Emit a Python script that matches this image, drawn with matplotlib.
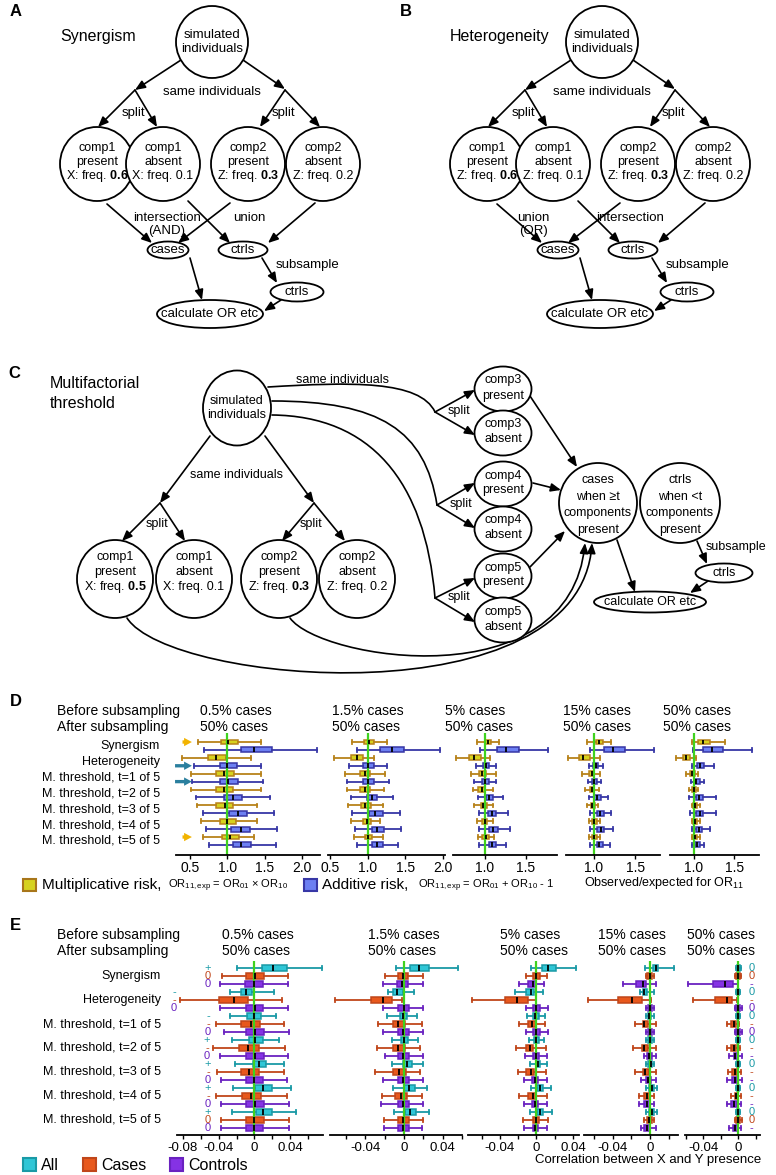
import matplotlib.pyplot as plt
import matplotlib.patches as mpatches
from matplotlib.path import Path
from matplotlib.ticker import MultipleLocator, FuncFormatter

plt.rcParams['font.family'] = ['Liberation Sans', 'DejaVu Sans']
plt.rcParams['axes.unicode_minus'] = False
plt.rcParams['mathtext.fontset'] = 'custom'
plt.rcParams['mathtext.rm'] = 'Liberation Sans'
plt.rcParams['mathtext.it'] = 'Liberation Sans:italic'
plt.rcParams['mathtext.bf'] = 'Liberation Sans:bold'

# ---- data ----
categories = ['Synergism', 'Heterogeneity', 'M. threshold, t=1 of 5', 'M. threshold, t=2 of 5',
              'M. threshold, t=3 of 5', 'M. threshold, t=4 of 5', 'M. threshold, t=5 of 5']
before_sub = ['0.5% cases', '1.5% cases', '5% cases', '15% cases', '50% cases']
after_sub = ['50% cases'] * 5

# panel D, rows = [whisker low, q1, median, q3, whisker high]
mult_0_5 = [[0.60, 0.91, 1.01, 1.14, 1.45], [0.39, 0.74, 0.84, 0.98, 1.32], [0.51, 0.85, 0.95, 1.09, 1.45],
            [0.51, 0.85, 0.95, 1.08, 1.45], [0.59, 0.85, 0.97, 1.08, 1.40], [0.64, 0.90, 1.00, 1.12, 1.39],
            [0.67, 0.93, 1.03, 1.15, 1.36]]
add_0_5 = [[0.68, 1.18, 1.36, 1.59, 2.20], [0.55, 0.90, 1.00, 1.13, 1.45], [0.53, 0.90, 1.01, 1.14, 1.48],
           [0.58, 0.95, 1.07, 1.20, 1.57], [0.67, 1.02, 1.14, 1.26, 1.63], [0.71, 1.05, 1.18, 1.30, 1.67],
           [0.75, 1.07, 1.18, 1.31, 1.65]]
mult_1_5 = [[0.79, 0.95, 1.01, 1.08, 1.26], [0.55, 0.77, 0.85, 0.94, 1.08], [0.69, 0.89, 0.96, 1.03, 1.23],
            [0.72, 0.90, 0.96, 1.03, 1.22], [0.73, 0.91, 0.96, 1.04, 1.21], [0.78, 0.94, 0.99, 1.04, 1.17],
            [0.81, 0.96, 1.00, 1.05, 1.20]]
add_1_5 = [[0.85, 1.16, 1.32, 1.49, 1.97], [0.75, 0.94, 1.00, 1.08, 1.25], [0.72, 0.93, 1.00, 1.08, 1.28],
           [0.78, 0.99, 1.06, 1.13, 1.34], [0.79, 1.01, 1.10, 1.20, 1.43], [0.83, 1.05, 1.13, 1.22, 1.45],
           [0.85, 1.06, 1.13, 1.21, 1.41]]
mult_5 = [[0.90, 1.00, 1.04, 1.08, 1.17], [0.65, 0.81, 0.87, 0.95, 1.06], [0.83, 0.93, 0.96, 1.01, 1.13],
          [0.85, 0.92, 0.96, 1.00, 1.10], [0.87, 0.95, 0.98, 1.02, 1.10], [0.90, 0.97, 1.00, 1.03, 1.10],
          [0.91, 0.97, 1.01, 1.05, 1.11]]
add_5 = [[0.94, 1.15, 1.26, 1.41, 1.77], [0.89, 0.98, 1.01, 1.05, 1.14], [0.87, 0.97, 1.00, 1.05, 1.14],
         [0.91, 1.01, 1.05, 1.10, 1.22], [0.93, 1.04, 1.09, 1.14, 1.28], [0.93, 1.05, 1.10, 1.16, 1.30],
         [0.93, 1.05, 1.09, 1.14, 1.26]]
mult_15 = [[0.91, 1.02, 1.06, 1.11, 1.21], [0.68, 0.82, 0.87, 0.95, 1.07], [0.86, 0.94, 0.97, 1.00, 1.07],
           [0.89, 0.95, 0.97, 1.00, 1.06], [0.91, 0.96, 0.98, 1.01, 1.05], [0.94, 0.98, 1.00, 1.03, 1.07],
           [0.94, 0.98, 1.00, 1.03, 1.07]]
add_15 = [[0.95, 1.12, 1.23, 1.38, 1.73], [0.94, 0.99, 1.02, 1.05, 1.11], [0.93, 0.98, 1.00, 1.04, 1.09],
          [0.94, 1.00, 1.04, 1.08, 1.17], [0.95, 1.04, 1.07, 1.12, 1.21], [0.95, 1.04, 1.08, 1.12, 1.23],
          [0.95, 1.03, 1.06, 1.11, 1.19]]
mult_50 = [[0.98, 1.05, 1.11, 1.20, 1.38], [0.77, 0.86, 0.90, 0.95, 1.03], [0.90, 0.95, 0.97, 1.01, 1.05],
           [0.94, 0.97, 1.00, 1.03, 1.05], [0.97, 0.99, 1.01, 1.04, 1.07], [0.97, 0.99, 1.01, 1.04, 1.07],
           [0.97, 0.99, 1.01, 1.04, 1.07]]
add_50 = [[0.99, 1.11, 1.23, 1.36, 1.72], [0.98, 1.04, 1.08, 1.13, 1.25], [0.96, 1.01, 1.03, 1.07, 1.13],
          [0.94, 1.03, 1.06, 1.11, 1.27], [0.95, 1.03, 1.07, 1.11, 1.27], [0.97, 1.02, 1.06, 1.10, 1.20],
          [0.97, 1.01, 1.04, 1.08, 1.13]]

# panel E, rows = [whisker low, q1, median, q3, whisker high]
all_0_5 = [[-0.020, 0.008, 0.021, 0.036, 0.076], [-0.027, -0.015, -0.009, -0.003, 0.022],
           [-0.027, -0.008, -0.001, 0.007, 0.024], [-0.025, -0.006, 0.001, 0.009, 0.028],
           [-0.022, -0.002, 0.005, 0.013, 0.033], [-0.024, 0.001, 0.009, 0.020, 0.041],
           [-0.025, 0.002, 0.010, 0.020, 0.046]]
cases_0_5 = [[-0.036, -0.009, 0.001, 0.011, 0.038], [-0.083, -0.040, -0.023, -0.007, 0.031],
             [-0.043, -0.015, -0.004, 0.006, 0.033], [-0.046, -0.017, -0.007, 0.005, 0.034],
             [-0.042, -0.015, -0.006, 0.005, 0.033], [-0.043, -0.014, -0.004, 0.007, 0.036],
             [-0.037, -0.009, 0.000, 0.011, 0.039]]
ctrl_0_5 = [[-0.039, -0.011, 0.000, 0.009, 0.038], [-0.039, -0.010, 0.001, 0.010, 0.038],
            [-0.034, -0.009, 0.001, 0.011, 0.039], [-0.039, -0.009, 0.001, 0.011, 0.038],
            [-0.037, -0.010, 0.000, 0.010, 0.036], [-0.037, -0.009, 0.001, 0.011, 0.039],
            [-0.038, -0.010, 0.000, 0.010, 0.039]]
all_1_5 = [[-0.008, 0.006, 0.016, 0.026, 0.056], [-0.017, -0.011, -0.007, -0.001, 0.010],
           [-0.018, -0.004, -0.001, 0.003, 0.013], [-0.012, -0.003, 0.000, 0.004, 0.014],
           [-0.012, -0.001, 0.003, 0.008, 0.020], [-0.011, 0.000, 0.005, 0.011, 0.024],
           [-0.010, 0.001, 0.006, 0.012, 0.026]]
cases_1_5 = [[-0.020, -0.006, -0.001, 0.004, 0.020], [-0.071, -0.034, -0.022, -0.012, -0.002],
             [-0.027, -0.011, -0.006, 0.001, 0.019], [-0.028, -0.011, -0.006, 0.001, 0.017],
             [-0.030, -0.011, -0.005, 0.002, 0.017], [-0.023, -0.009, -0.003, 0.003, 0.019],
             [-0.021, -0.006, -0.001, 0.005, 0.020]]
ctrl_1_5 = [[-0.022, -0.007, -0.002, 0.004, 0.020], [-0.022, -0.006, 0.000, 0.005, 0.020],
            [-0.022, -0.006, -0.001, 0.005, 0.020], [-0.020, -0.006, -0.001, 0.005, 0.020],
            [-0.022, -0.006, -0.001, 0.005, 0.020], [-0.024, -0.006, -0.001, 0.005, 0.020],
            [-0.021, -0.006, -0.001, 0.005, 0.019]]
all_5 = [[-0.006, 0.006, 0.013, 0.021, 0.043], [-0.023, -0.011, -0.006, -0.003, 0.007],
         [-0.010, -0.004, -0.002, 0.003, 0.009], [-0.008, -0.003, 0.000, 0.003, 0.008],
         [-0.007, 0.000, 0.002, 0.004, 0.012], [-0.006, 0.001, 0.004, 0.007, 0.016],
         [-0.007, 0.001, 0.004, 0.007, 0.017]]
cases_5 = [[-0.012, -0.004, 0.000, 0.004, 0.011], [-0.071, -0.035, -0.021, -0.009, 0.000],
           [-0.019, -0.009, -0.005, 0.000, 0.009], [-0.022, -0.011, -0.007, -0.004, 0.010],
           [-0.020, -0.011, -0.006, -0.003, 0.010], [-0.019, -0.009, -0.004, 0.000, 0.011],
           [-0.015, -0.004, -0.001, 0.003, 0.013]]
ctrl_5 = [[-0.019, -0.009, -0.004, 0.000, 0.008], [-0.012, -0.004, 0.000, 0.004, 0.013],
          [-0.012, -0.004, 0.000, 0.004, 0.013], [-0.013, -0.004, 0.000, 0.003, 0.011],
          [-0.014, -0.005, -0.002, 0.002, 0.011], [-0.014, -0.005, -0.002, 0.002, 0.011],
          [-0.014, -0.004, -0.002, 0.002, 0.011]]
all_15 = [[-0.005, 0.003, 0.006, 0.009, 0.026], [-0.011, -0.008, -0.006, -0.003, 0.004],
          [-0.004, -0.002, -0.001, 0.001, 0.004], [-0.004, -0.002, 0.000, 0.002, 0.004],
          [-0.004, -0.002, 0.001, 0.002, 0.004], [-0.004, -0.001, 0.002, 0.004, 0.007],
          [-0.004, -0.001, 0.002, 0.004, 0.007]]
cases_15 = [[-0.004, -0.003, 0.000, 0.002, 0.004], [-0.067, -0.034, -0.019, -0.009, 0.001],
            [-0.016, -0.008, -0.006, -0.002, 0.006], [-0.018, -0.009, -0.006, -0.002, 0.006],
            [-0.016, -0.008, -0.005, -0.001, 0.006], [-0.012, -0.006, -0.003, 0.000, 0.004],
            [-0.006, -0.003, -0.001, 0.002, 0.004]]
ctrl_15 = [[-0.029, -0.015, -0.008, -0.004, 0.006], [-0.004, -0.002, 0.000, 0.002, 0.004],
           [-0.004, -0.002, 0.000, 0.002, 0.004], [-0.007, -0.003, -0.001, 0.002, 0.006],
           [-0.010, -0.004, -0.002, 0.001, 0.006], [-0.012, -0.006, -0.003, 0.000, 0.004],
           [-0.010, -0.006, -0.003, 0.000, 0.006]]
all_50 = [[-0.002, -0.001, 0.000, 0.002, 0.003], [-0.002, -0.001, 0.000, 0.001, 0.002],
          [-0.002, -0.001, 0.000, 0.001, 0.002], [-0.002, -0.001, 0.000, 0.001, 0.002],
          [-0.002, -0.001, 0.000, 0.001, 0.002], [-0.002, -0.001, 0.000, 0.001, 0.002],
          [-0.002, -0.001, 0.000, 0.001, 0.002]]
cases_50 = [[-0.003, -0.002, 0.000, 0.002, 0.003], [-0.051, -0.026, -0.013, -0.007, -0.001],
            [-0.013, -0.008, -0.005, -0.002, 0.001], [-0.013, -0.008, -0.005, -0.002, 0.002],
            [-0.011, -0.007, -0.004, -0.001, 0.003], [-0.008, -0.004, -0.002, 0.000, 0.003],
            [-0.004, -0.002, 0.000, 0.002, 0.004]]
ctrl_50 = [[-0.057, -0.029, -0.015, -0.006, 0.000], [-0.004, -0.002, 0.000, 0.002, 0.004],
           [-0.004, -0.002, 0.000, 0.002, 0.004], [-0.010, -0.005, -0.003, 0.000, 0.004],
           [-0.013, -0.007, -0.004, -0.001, 0.004], [-0.013, -0.008, -0.005, -0.001, 0.003],
           [-0.010, -0.006, -0.003, 0.000, 0.003]]

# significance signs beside panel E
left_all = ['+', '-', '-', '+', '+', '+', '+']
left_cases = ['0', '-', '-', '-', '-', '-', '0']
left_ctrl = ['0', '0', '0', '0', '0', '0', '0']
right_all = ['0', '0', '0', '0', '0', '0', '0']
right_cases = ['0', '-', '-', '-', '-', '-', '0']
right_ctrl = ['-', '0', '0', '-', '-', '-', '-']

# arrows in panel D: (row, colour)
d_arrows = [(0, '#f2b300'), (3, '#2a7f9e'), (5, '#2a7f9e'), (12, '#f2b300')]

# ---- figure ----
W, H = 776, 1175
fig = plt.figure(figsize=(W / 100, H / 100), dpi=100)
ax0 = fig.add_axes([0, 0, 1, 1])
ax0.set_xlim(0, W)
ax0.set_ylim(H, 0)
ax0.axis('off')

HEAD = '-|>,head_length=0.6,head_width=0.25'


def node(x, y, w, h, lines, fs=9, dy=14, ty=0):
    ax0.add_patch(mpatches.Ellipse((x, y), w, h, fc='white', ec='k', lw=1.3, zorder=2))
    n = len(lines)
    for i, s in enumerate(lines):
        ax0.text(x, y + ty + (i - (n - 1) / 2) * dy, s, ha='center', va='center', fontsize=fs, zorder=3)


def arr(p, q, head=True):
    ax0.add_patch(mpatches.FancyArrowPatch(p, q, arrowstyle=HEAD if head else '-', mutation_scale=10,
                                           lw=1.2, color='k', shrinkA=0, shrinkB=0, zorder=1))


def curve(pts, head=True):
    path = Path(pts, [Path.MOVETO, Path.CURVE4, Path.CURVE4, Path.CURVE4])
    ax0.add_patch(mpatches.FancyArrowPatch(path=path, arrowstyle=HEAD if head else '-', mutation_scale=10,
                                           lw=1.2, color='k', zorder=1))


def txt(x, y, s, fs=9.5, ha='center', **kw):
    ax0.text(x, y, s, ha=ha, va='center', fontsize=fs, **kw)


# panels A and B
def panel_ab(dx, letter, title, var, freqs, mid_labels):
    txt(10 + dx, 11, letter, fs=12, ha='left', fontweight='bold')
    txt(60 + dx, 36, title, fs=11.5, ha='left')
    node(212 + dx, 42, 72, 72, ['simulated', 'individuals'], fs=9.5)
    arr((181 + dx, 60), (135 + dx, 90))
    arr((243 + dx, 60), (285 + dx, 89))
    txt(212 + dx, 92, 'same individuals')
    for sx, t1, t2 in [(135, 98, 157), (285, 260, 320)]:
        arr((sx + dx, 90), (t1 + dx, 127))
        arr((sx + dx, 90), (t2 + dx, 127))
        txt(sx + dx - 2, 113, 'split')
    names = ['comp1\npresent', 'comp1\nabsent', 'comp2\npresent', 'comp2\nabsent']
    for cx, nm, v, (f, b) in zip([97, 163, 248, 323], names, var, freqs):
        fr = r'$\mathbf{%s}$' % f if b else f
        node(cx + dx, 164, 74, 74, nm.split('\n') + ['%s: freq. %s' % (v, fr)], ty=-2)
    arr((107 + dx, 204), (152 + dx, 243))
    arr((230 + dx, 203), (178 + dx, 243))
    arr((188 + dx, 201), (230 + dx, 243))
    arr((315 + dx, 203), (268 + dx, 243))
    for (lx, ly, s) in mid_labels:
        txt(lx + dx, ly, s)
    node(168 + dx, 250, 41, 17, ['cases'], fs=9.5)
    node(243 + dx, 250, 49, 17, ['ctrls'], fs=9.5)
    txt(308 + dx, 265, 'subsample')
    arr((262 + dx, 258), (277 + dx, 283))
    node(297 + dx, 292, 53, 19, ['ctrls'], fs=9.5)
    arr((190 + dx, 258), (202 + dx, 300))
    arr((281 + dx, 300), (264 + dx, 311))
    node(210 + dx, 314, 106, 28, ['calculate OR etc'], fs=9.5)


panel_ab(0, 'A', 'Synergism', ['X', 'X', 'Z', 'Z'],
         [('0.6', True), ('0.1', False), ('0.3', True), ('0.2', False)],
         [(167, 218, 'intersection'), (167, 231, '(AND)'), (249, 218, 'union')])
panel_ab(390, 'B', 'Heterogeneity', ['Z', 'Z', 'Z', 'Z'],
         [('0.6', True), ('0.1', False), ('0.3', True), ('0.2', False)],
         [(143, 218, 'union'), (143, 231, '(OR)'), (240, 218, 'intersection')])

# panel C
fsC = 9
txt(8, 373, 'C', fs=12, ha='left', fontweight='bold')
txt(50, 383, 'Multifactorial', fs=11.5, ha='left')
txt(50, 403, 'threshold', fs=11.5, ha='left')
node(237, 408, 68, 75, ['simulated', 'individuals'], fs=fsC, dy=15, ty=0)
txt(343, 380, 'same individuals', fs=fsC)
txt(237, 475, 'same individuals', fs=fsC)
arr((210, 436), (160, 503))
arr((265, 436), (314, 503))
for sx, t1, t2 in [(160, 122, 185), (314, 282, 345)]:
    arr((sx, 503), (t1, 541))
    arr((sx, 503), (t2, 541))
    txt(sx - 3, 524, 'split', fs=fsC)
c_names = [['comp1', 'present'], ['comp1', 'absent'], ['comp2', 'present'], ['comp2', 'absent']]
c_var = ['X', 'X', 'Z', 'Z']
c_freq = [('0.5', True), ('0.1', False), ('0.3', True), ('0.2', False)]
for cx, nm, v, (f, b) in zip([115, 194, 279, 357], c_names, c_var, c_freq):
    fr = r'$\mathbf{%s}$' % f if b else f
    node(cx, 579, 76, 78, nm + ['%s: freq. %s' % (v, fr)], fs=fsC, dy=15, ty=-7)
# curves to comp3-5 split points
curve([(268, 387), (350, 382), (420, 380), (435, 412)], head=False)
curve([(272, 401), (380, 401), (425, 430), (437, 505)], head=False)
curve([(272, 415), (370, 416), (425, 480), (435, 598)], head=False)
small_y = [389, 433, 484, 529, 576, 620]
small_names = [['comp3', 'present'], ['comp3', 'absent'], ['comp4', 'present'], ['comp4', 'absent'],
               ['comp5', 'present'], ['comp5', 'absent']]
for y, nm in zip(small_y, small_names):
    node(503, y, 57, 45, nm, fs=fsC, dy=15, ty=-1)
for sx, sy, ya, yb in [(435, 412, 390, 435), (437, 505, 483, 528), (435, 598, 578, 622)]:
    arr((sx, sy), (475, ya))
    arr((sx, sy), (475, yb))
    txt(sx + 24, sy - 1, 'split', fs=fsC)
node(598, 503, 78, 80, ['cases', 'when \u2265t', 'components', 'present'], fs=fsC, dy=16.5, ty=2)
node(680, 503, 80, 80, ['ctrls', 'when <t', 'components', 'present'], fs=fsC, dy=16.5, ty=2)
arr((530, 396), (577, 467))
arr((533, 483), (561, 490))
arr((530, 567), (565, 531))
curve([(127, 618), (170, 685), (580, 720), (592, 543)])
curve([(290, 618), (320, 660), (570, 700), (585, 543)])
node(724, 573, 57, 19, ['ctrls'], fs=fsC)
node(650, 602, 112, 21, ['calculate OR etc'], fs=fsC)
txt(736, 547, 'subsample', fs=fsC)
arr((617, 540), (635, 592))
arr((697, 541), (707, 564))
arr((708, 581), (690, 593))


# ---- box plot helpers ----
def px_axes(x0, x1, y0, y1):
    a = fig.add_axes([x0 / W, 1 - y1 / H, (x1 - x0) / W, (y1 - y0) / H])
    a.set_facecolor('none')
    for s in ['left', 'top', 'right']:
        a.spines[s].set_visible(False)
    a.spines['bottom'].set_linewidth(1.3)
    a.set_yticks([])
    return a


def boxes(ax, rows, pos, fc, ec, width):
    st = [dict(whislo=r[0], q1=r[1], med=r[2], q3=r[3], whishi=r[4]) for r in rows]
    ax.bxp(st, positions=pos, widths=width, orientation='horizontal', patch_artist=True,
           showfliers=False, manage_ticks=False, capwidths=width * 0.75,
           boxprops=dict(facecolor=fc, edgecolor=ec, linewidth=1.1),
           whiskerprops=dict(color=ec, linewidth=1.3), capprops=dict(color=ec, linewidth=1.3),
           medianprops=dict(color='k', linewidth=1.3))


GREEN = '#3fd21e'

# ---- panel D ----
txt(10, 702, 'D', fs=12, ha='left', fontweight='bold')
txt(57, 711, 'Before subsampling', fs=10, ha='left')
txt(57, 727, 'After subsampling', fs=10, ha='left')
d_mult = [mult_0_5, mult_1_5, mult_5, mult_15, mult_50]
d_add = [add_0_5, add_1_5, add_5, add_15, add_50]
d_box = [(176, 320), (328, 445), (453, 557), (566, 660), (670, 759)]
d_lim = [(0.31, 2.24), (0.47, 2.03), (0.61, 1.88), (0.66, 1.80), (0.70, 1.81)]
d_head_x = [200, 332, 445, 563, 663]
n = len(categories)
for k in range(5):
    ax = px_axes(d_box[k][0], d_box[k][1], 733, 855)
    boxes(ax, d_mult[k], [2 * i for i in range(n)], '#d6d21e', '#b8821a', 0.62)
    boxes(ax, d_add[k], [2 * i + 1 for i in range(n)], '#6c7ff2', '#3737a6', 0.62)
    ax.axvline(1.0, color=GREEN, lw=1.6, zorder=2.05)
    ax.set_xlim(*d_lim[k])
    ax.set_ylim(2 * n + 0.27, -1.14)
    ax.xaxis.set_major_locator(MultipleLocator(0.5))
    ax.xaxis.set_major_formatter(FuncFormatter(lambda v, p: '%.1f' % v))
    ax.tick_params(axis='x', labelsize=10, length=3, width=1, pad=1.5)
    txt(d_head_x[k], 711, before_sub[k], fs=10, ha='left')
    txt(d_head_x[k], 727, after_sub[k], fs=10, ha='left')
    if k == 0:
        tr = ax.get_yaxis_transform()
        for i, c in enumerate(categories):
            ax.text(-0.111, 2 * i + 0.5, c, transform=tr, ha='right', va='center', fontsize=9)
        for r, col in d_arrows:
            ax.annotate('', xy=(0.56, r), xytext=(0.36, r) if col == '#f2b300' else (0.26, r),
                        arrowprops=dict(arrowstyle='simple,head_length=0.7,head_width=0.75,tail_width=0.3',
                                        color=col, lw=0, mutation_scale=8))

# legend D
ax0.add_patch(mpatches.Rectangle((23, 879), 13, 12, fc='#d6d21e', ec='#a8761a', lw=1.5))
txt(42, 885, 'Multiplicative risk,', fs=11, ha='left')
txt(168, 886, r'OR$_{11,\mathrm{exp}}$ = OR$_{01}$ ' + '\u00d7' + r' OR$_{10}$', fs=8, ha='left')
ax0.add_patch(mpatches.Rectangle((304, 879), 13, 12, fc='#6c7ff2', ec='#3737a6', lw=1.5))
txt(322, 885, 'Additive risk,', fs=11, ha='left')
txt(418, 886, r'OR$_{11,\mathrm{exp}}$ = OR$_{01}$ + OR$_{10}$ - 1', fs=8, ha='left')
txt(584, 883, r'Observed/expected for OR$_{11}$', fs=9, ha='left')

# ---- panel E ----
txt(10, 925, 'E', fs=12, ha='left', fontweight='bold')
txt(57, 935, 'Before subsampling', fs=10, ha='left')
txt(57, 951, 'After subsampling', fs=10, ha='left')
e_all = [all_0_5, all_1_5, all_5, all_15, all_50]
e_cases = [cases_0_5, cases_1_5, cases_5, cases_15, cases_50]
e_ctrl = [ctrl_0_5, ctrl_1_5, ctrl_5, ctrl_15, ctrl_50]
e_box = [(177, 323), (330, 462), (468, 579), (584, 678), (685, 760)]
e_lim = [(-0.0867, 0.0767), (-0.0765, 0.060), (-0.075, 0.0466), (-0.071, 0.030), (-0.0606, 0.025)]
e_head_x = [222, 368, 500, 598, 687]
C_ALL, C_CASE, C_CTRL = ('#2fc6d6', '#1a9aa6'), ('#e8581c', '#c0461a'), ('#8532e4', '#6a22c0')
for k in range(5):
    ax = px_axes(e_box[k][0], e_box[k][1], 961, 1135)
    boxes(ax, e_all[k], [3 * i for i in range(n)], C_ALL[0], C_ALL[1], 0.7)
    boxes(ax, e_cases[k], [3 * i + 1 for i in range(n)], C_CASE[0], C_CASE[1], 0.7)
    boxes(ax, e_ctrl[k], [3 * i + 2 for i in range(n)], C_CTRL[0], C_CTRL[1], 0.7)
    ax.axvline(0.0, color=GREEN, lw=1.6, zorder=2.05)
    ax.set_xlim(*e_lim[k])
    ax.set_ylim(3 * n - 0.1, -0.9)
    ax.xaxis.set_major_locator(MultipleLocator(0.04))
    ax.xaxis.set_minor_locator(MultipleLocator(0.02))
    ax.xaxis.set_major_formatter(FuncFormatter(lambda v, p: '0' if abs(v) < 1e-9 else '%.2f' % v))
    ax.tick_params(axis='x', which='major', labelsize=9.5, length=3, width=1, pad=2)
    ax.tick_params(axis='x', which='minor', length=3, width=1)
    txt(e_head_x[k], 935, before_sub[k], fs=10, ha='left')
    txt(e_head_x[k], 951, after_sub[k], fs=10, ha='left')
    if k == 0:
        tr = ax.get_yaxis_transform()
        for i, c in enumerate(categories):
            ax.text(-0.111, 3 * i + 1, c, transform=tr, ha='right', va='center', fontsize=9)
            lo = min(e_all[0][i][0], e_cases[0][i][0], e_ctrl[0][i][0])
            sx = min(-0.052, lo - 0.007)
            for j, (s, col) in enumerate([(left_all[i], C_ALL[1]), (left_cases[i], C_CASE[1]),
                                          (left_ctrl[i], C_CTRL[1])]):
                ax.text(sx, 3 * i + j, s, ha='center', va='center', fontsize=8, color=col, clip_on=False)
    if k == 4:
        for i in range(n):
            for j, (s, col) in enumerate([(right_all[i], C_ALL[1]), (right_cases[i], C_CASE[1]),
                                          (right_ctrl[i], C_CTRL[1])]):
                ax.text(0.0157, 3 * i + j, s, ha='center', va='center', fontsize=8, color=col, clip_on=False)

# legend E
for x0, lab, (fc, ec) in [(23, 'All', C_ALL), (83, 'Cases', C_CASE), (170, 'Controls', C_CTRL)]:
    ax0.add_patch(mpatches.Rectangle((x0, 1158), 13, 13, fc=fc, ec=ec, lw=1.5))
    txt(x0 + 18, 1165, lab, fs=11.5, ha='left')
txt(535, 1160, 'Correlation between X and Y presence', fs=9.5, ha='left')

fig.savefig('out.png', dpi=100)
